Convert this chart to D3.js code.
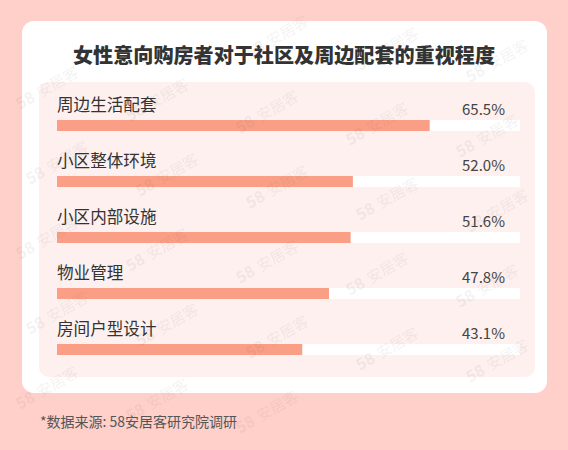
<!DOCTYPE html>
<html>
<head>
<meta charset="utf-8">
<script src="https://cdn.jsdelivr.net/npm/d3@7/dist/d3.min.js"></script>
<style>
  html, body { margin: 0; padding: 0; background: #ffd0c9; }
  svg { display: block; }
</style>
</head>
<body>
<div id="chart"></div>
<script>
const title = '女性意向购房者对于社区及周边配套的重视程度'
const categories = ['周边生活配套', '小区整体环境', '小区内部设施', '物业管理', '房间户型设计']
const values = [65.5, 52.0, 51.6, 47.8, 43.1]
const source = '*数据来源: 58安居客研究院调研'

const width = 568
const height = 450
const font = '"Noto Sans CJK SC", "Noto Sans", sans-serif'

const svg = d3.select('#chart')
  .append('svg')
  .attr('width', width)
  .attr('height', height)

// Fit a text element's font size so that it spans the given width
function fitWidth(sel, target) {
  const node = sel.node()
  const fs = parseFloat(sel.attr('font-size'))
  const len = node.getComputedTextLength()
  if (len > 0) sel.attr('font-size', (fs * target / len).toFixed(2) + 'px')
}

// Background
svg.append('rect')
  .attr('width', width)
  .attr('height', height)
  .attr('fill', '#ffd0c9')

// White card
svg.append('rect')
  .attr('x', 22)
  .attr('y', 21)
  .attr('width', 525)
  .attr('height', 372)
  .attr('rx', 12)
  .attr('fill', '#ffffff')

// Title
const titleText = svg.append('text')
  .attr('x', 284)
  .attr('y', 63)
  .attr('text-anchor', 'middle')
  .attr('font-family', font)
  .attr('font-weight', 900)
  .attr('font-size', '17.5px')
  .attr('fill', '#333')
  .text(title)
fitWidth(titleText, 422)

// Inner panel
svg.append('rect')
  .attr('x', 39)
  .attr('y', 82)
  .attr('width', 496)
  .attr('height', 295)
  .attr('rx', 10)
  .attr('fill', '#fdf0ee')

// Scales
const x = d3.scaleLinear()
  .domain([0, 100])
  .range([57, 626])

const y = d3.scaleBand()
  .domain(categories)
  .range([120, 400])

const barH = 11
const rows = svg.append('g')
  .selectAll('g')
  .data(categories.map((c, i) => ({ name: c, value: values[i] })))
  .join('g')
  .attr('transform', d => `translate(0, ${y(d.name)})`)

// Track
rows.append('rect')
  .attr('x', x(0))
  .attr('y', 0)
  .attr('width', 463)
  .attr('height', barH)
  .attr('fill', '#ffffff')

// Bar
rows.append('rect')
  .attr('x', x(0))
  .attr('y', 0)
  .attr('width', d => x(d.value) - x(0))
  .attr('height', barH)
  .attr('fill', '#fa9f85')

// Category label
rows.append('text')
  .attr('x', x(0))
  .attr('y', -9.5)
  .attr('font-family', font)
  .attr('font-size', '16.6px')
  .attr('fill', '#333')
  .text(d => d.name)

// Value label
rows.append('text')
  .attr('x', 505)
  .attr('y', -5)
  .attr('text-anchor', 'end')
  .attr('font-family', font)
  .attr('font-size', '15px')
  .attr('fill', '#444')
  .text(d => d.value.toFixed(1) + '%')

// Source
svg.append('text')
  .attr('x', 40)
  .attr('y', 427)
  .attr('font-family', font)
  .attr('font-size', '14px')
  .attr('fill', '#555')
  .text(source)

// Faint watermark, only where it fits fully inside the picture
const wm = svg.append('g')
  .attr('pointer-events', 'none')
  .attr('opacity', 0.07)
for (let r = -1; r < 7; r++) {
  for (let c = 0; c < 6; c++) {
    const wx = 30 + c * 110 - (r % 2) * 10
    const wy = 35 + r * 75 + c * 12
    const g = wm.append('g')
      .attr('transform', `translate(${wx}, ${wy}) rotate(-30)`)
    g.append('text')
      .attr('font-family', font)
      .attr('font-weight', 700)
      .attr('font-size', '16px')
      .attr('fill', '#555')
      .text('58')
    g.append('text')
      .attr('x', 24)
      .attr('font-family', font)
      .attr('font-size', '15px')
      .attr('fill', '#555')
      .text('安居客')
    const b = g.node().getBoundingClientRect()
    if (b.left < 1 || b.top < 1 || b.right > width - 1 || b.bottom > height - 1) g.remove()
  }
}
</script>
</body>
</html>
